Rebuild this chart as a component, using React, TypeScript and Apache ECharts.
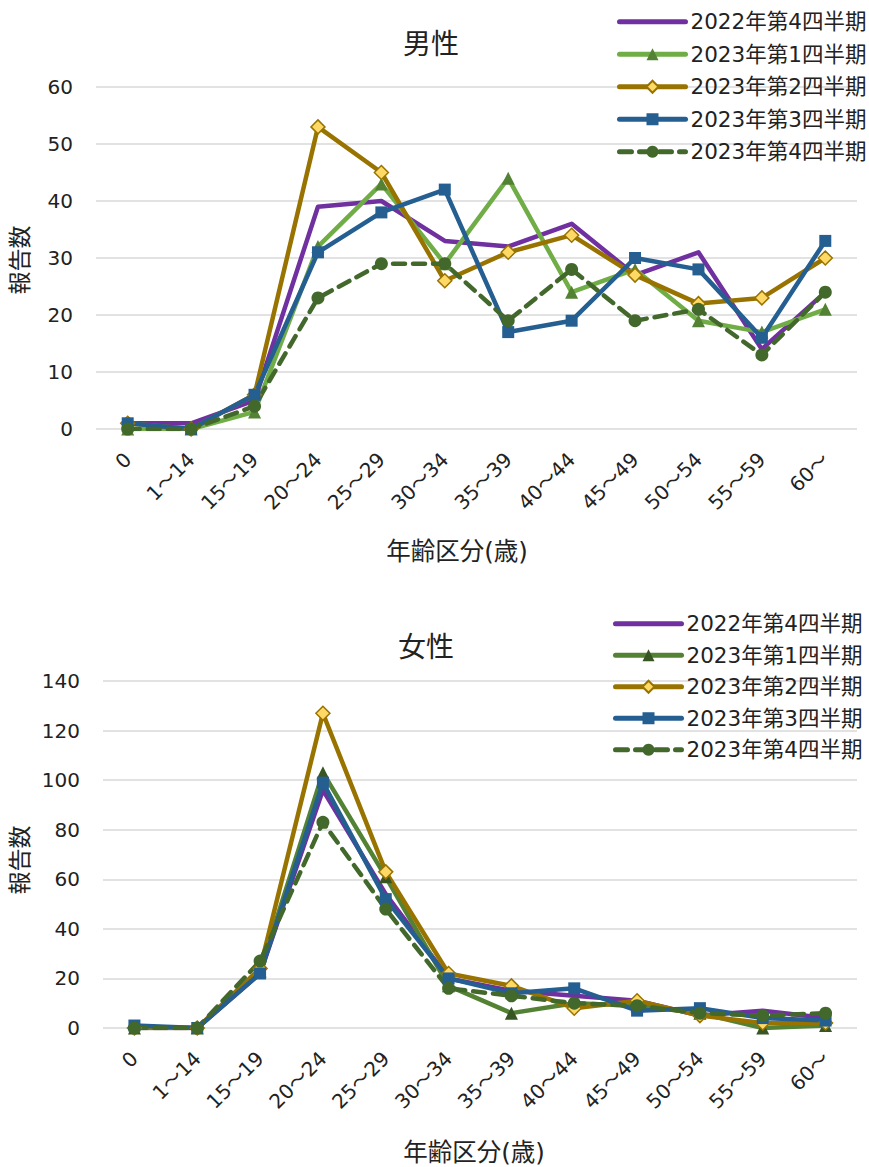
import React, { useEffect, useRef } from "react";
import * as echarts from "echarts";

const categories = ["0", "1～14", "15～19", "20～24", "25～29", "30～34", "35～39", "40～44", "45～49", "50～54", "55～59", "60～"];
const seriesNames = ["2022年第4四半期", "2023年第1四半期", "2023年第2四半期", "2023年第3四半期", "2023年第4四半期"];

const male2022Q4 = [1, 1, 5, 39, 40, 33, 32, 36, 27, 31, 14, 24];
const male2023Q1 = [0, 0, 3, 32, 43, 29, 44, 24, 28, 19, 17, 21];
const male2023Q2 = [1, 0, 6, 53, 45, 26, 31, 34, 27, 22, 23, 30];
const male2023Q3 = [1, 0, 6, 31, 38, 42, 17, 19, 30, 28, 16, 33];
const male2023Q4 = [0, 0, 4, 23, 29, 29, 19, 28, 19, 21, 13, 24];

const female2022Q4 = [0, 0, 22, 96, 54, 20, 15, 13, 11, 5, 7, 4];
const female2023Q1 = [0, 0, 23, 103, 61, 17, 6, 10, 9, 6, 0, 1];
const female2023Q2 = [0, 0, 24, 127, 63, 22, 17, 8, 11, 5, 2, 2];
const female2023Q3 = [1, 0, 22, 99, 52, 20, 14, 16, 7, 8, 4, 3];
const female2023Q4 = [0, 0, 27, 83, 48, 16, 13, 10, 9, 6, 5, 6];

const maleTicks = { max: 60, interval: 10 };
const femaleTicks = { max: 140, interval: 20 };

const FONT = "'DejaVu Sans', 'Noto Sans CJK JP', sans-serif";
const TEXT = "#222";

function buildSeries(data: number[][], q1Line: string, q1Marker: string) {
  const LW = 4.5;
  return [
    {
      name: seriesNames[0], type: "line", data: data[0], symbol: "none",
      lineStyle: { color: "#7030A0", width: LW, cap: "round", join: "round" },
      itemStyle: { color: "#7030A0" },
    },
    {
      name: seriesNames[1], type: "line", data: data[1], symbol: "triangle", symbolSize: 13,
      lineStyle: { color: q1Line, width: LW, cap: "round", join: "round" },
      itemStyle: { color: q1Marker },
    },
    {
      name: seriesNames[2], type: "line", data: data[2], symbol: "diamond", symbolSize: 14,
      lineStyle: { color: "#997300", width: LW, cap: "round", join: "round" },
      itemStyle: { color: "#FFD966", borderColor: "#997300", borderWidth: 1.5 },
    },
    {
      name: seriesNames[3], type: "line", data: data[3], symbol: "rect", symbolSize: 12,
      lineStyle: { color: "#255E91", width: LW, cap: "round", join: "round" },
      itemStyle: { color: "#255E91" },
    },
    {
      name: seriesNames[4], type: "line", data: data[4], symbol: "circle", symbolSize: 13,
      lineStyle: { color: "#43682B", width: LW, type: [12, 8], cap: "round", join: "round" },
      itemStyle: { color: "#43682B" },
    },
  ].map((s) => ({ ...s, animation: false, z: 2 }));
}

function buildOption(cfg: any) {
  return {
    animation: false,
    textStyle: { fontFamily: FONT, color: TEXT },
    grid: cfg.grid,
    legend: {
      orient: "vertical",
      left: cfg.legendLeft,
      top: cfg.legendTop,
      itemWidth: 66,
      itemHeight: 15,
      itemGap: cfg.legendGap,
      textStyle: { fontSize: 21.5, color: TEXT, fontFamily: FONT, lineHeight: 21 },
      lineStyle: { width: 5, cap: "round" },
      data: seriesNames.map((n, i) => (i === 0 ? { name: n, itemStyle: { opacity: 0 } } : { name: n })),
    },
    xAxis: {
      type: "category",
      data: categories,
      boundaryGap: true,
      axisLine: { show: false },
      axisTick: { show: false },
      axisLabel: { rotate: 45, fontSize: 20, color: TEXT, margin: 27, interval: 0, fontFamily: FONT },
    },
    yAxis: {
      type: "value",
      min: 0,
      max: cfg.ticks.max,
      interval: cfg.ticks.interval,
      axisLine: { show: false },
      axisTick: { show: false },
      axisLabel: { fontSize: 20, color: TEXT, margin: 23, fontFamily: FONT },
      splitLine: { lineStyle: { color: "#D9D9D9", width: 1.5 } },
    },
    graphic: [
      {
        type: "text", x: cfg.title[1], y: cfg.title[2],
        style: { text: cfg.title[0], font: `28px ${FONT}`, fill: TEXT, textAlign: "center", textVerticalAlign: "middle" },
      },
      {
        type: "text", x: cfg.xName[0], y: cfg.xName[1],
        style: { text: "年齢区分(歳)", font: `24.5px ${FONT}`, fill: TEXT, textAlign: "center", textVerticalAlign: "middle" },
      },
      {
        type: "text", x: cfg.yName[0], y: cfg.yName[1], rotation: Math.PI / 2,
        style: { text: "報告数", font: `23px ${FONT}`, fill: TEXT, textAlign: "center", textVerticalAlign: "middle" },
      },
    ],
    series: cfg.series,
  };
}

function Chart({ option, style }: { option: any; style: React.CSSProperties }) {
  const ref = useRef<HTMLDivElement>(null);
  useEffect(() => {
    if (!ref.current) return;
    const chart = echarts.init(ref.current, undefined, { renderer: "svg" });
    chart.setOption(option);
    return () => chart.dispose();
  }, [option]);
  return <div ref={ref} style={style} />;
}

const maleOption = buildOption({
  grid: { left: 96, right: 12, top: 87, bottom: 161 },
  legendLeft: 612,
  legendTop: 6,
  legendGap: 11,
  ticks: maleTicks,
  title: ["男性", 431, 44],
  xName: [457, 551],
  yName: [20, 260],
  series: buildSeries([male2022Q4, male2023Q1, male2023Q2, male2023Q3, male2023Q4], "#70AD47", "#548235"),
});

const femaleOption = buildOption({
  grid: { left: 103, right: 12, top: 91, bottom: 139 },
  legendLeft: 608,
  legendTop: 18,
  legendGap: 10,
  ticks: femaleTicks,
  title: ["女性", 426, 57],
  xName: [474, 562],
  yName: [20, 270],
  series: buildSeries([female2022Q4, female2023Q1, female2023Q2, female2023Q3, female2023Q4], "#548235", "#375623"),
});

export default function App() {
  return (
    <div style={{ position: "absolute", left: 0, top: 0, width: 869, height: 1167, background: "#fff" }}>
      <Chart option={maleOption} style={{ position: "absolute", left: 0, top: 0, width: 869, height: 590 }} />
      <Chart option={femaleOption} style={{ position: "absolute", left: 0, top: 590, width: 869, height: 577 }} />
    </div>
  );
}
